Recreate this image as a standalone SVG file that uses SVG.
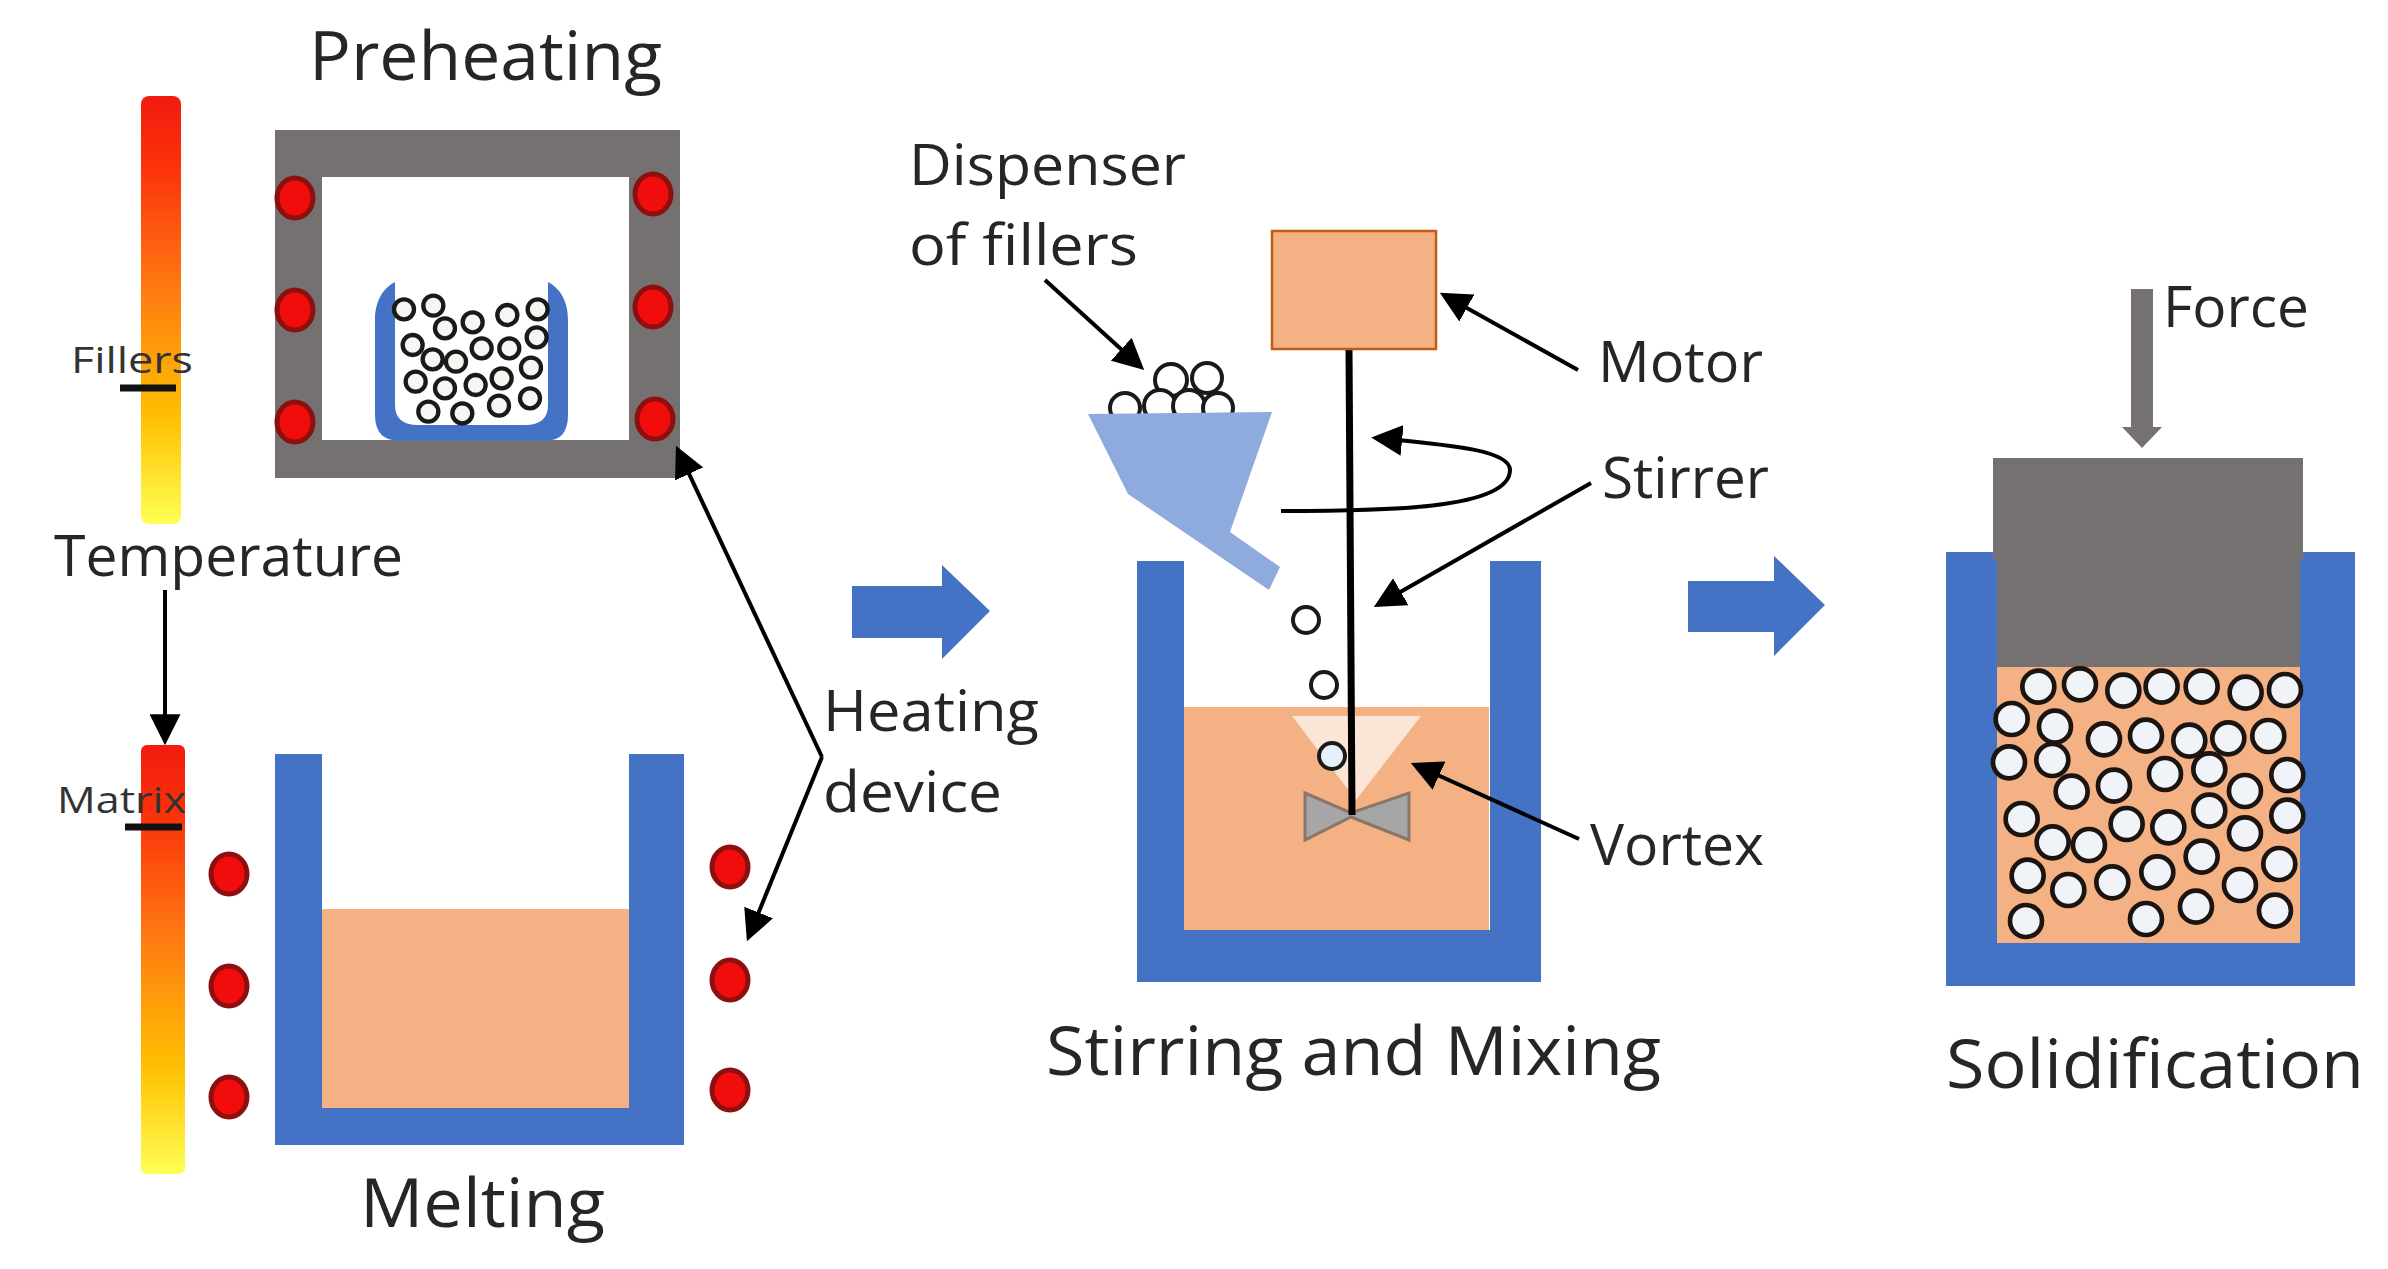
<svg xmlns="http://www.w3.org/2000/svg" width="2388" height="1269" viewBox="0 0 2388 1269">
<defs>
<linearGradient id="heat" x1="0" y1="0" x2="0" y2="1">
<stop offset="0" stop-color="#f01c10"/><stop offset=".15" stop-color="#fb2f0a"/><stop offset=".45" stop-color="#ff7a12"/><stop offset=".75" stop-color="#ffc000"/><stop offset="1" stop-color="#ffff55"/>
</linearGradient>
<marker id="head" viewBox="0 0 32 32" refX="26" refY="16" markerUnits="userSpaceOnUse" markerWidth="31" markerHeight="31" orient="auto"><path d="M0 0L32 16L0 32Z" fill="#000"/></marker>
</defs>
<style>
text{font-family:"Open Sans","Noto Sans","Liberation Sans",sans-serif;fill:#262626}
.big{font-size:68px}.mid{font-size:56px}.small{font-size:36px;fill:#333}
.blue{fill:#4472c4}.melt{fill:#f4b183}.grey{fill:#767171}
.heat{fill:url(#heat)}
.hot{fill:#f20d0d;stroke:#8e0f0f;stroke-width:5}
.ball{fill:#fff;stroke:#1a1a1a;stroke-width:4}
.ball2{fill:#f0f3f8;stroke:#1c1410;stroke-width:14}
.ball3{fill:#f6f6f2;stroke:#1a1a1a;stroke-width:13}
.conn{fill:none;stroke:#000;stroke-width:4;marker-end:url(#head)}
.tick{stroke:#111;stroke-width:7}
</style>
<rect width="2388" height="1269" fill="#fff"/>

<g id="thermometer-fillers">
<rect class="heat" x="141" y="96" width="40" height="428" rx="8"/>
<line class="tick" x1="120" y1="388" x2="176" y2="388"/>
<text class="small" x="71" y="373" textLength="122" lengthAdjust="spacingAndGlyphs">Fillers</text>
</g>
<text id="label-temperature" class="mid" x="54" y="576" textLength="349" lengthAdjust="spacingAndGlyphs">Temperature</text>

<g id="preheating">
<text class="big" x="309" y="80" textLength="353" lengthAdjust="spacingAndGlyphs">Preheating</text>
<path class="grey" fill-rule="evenodd" d="M275 130H680V478H275ZM322 177V440H629V177Z"/>
<g class="heaters">
<ellipse class="hot" cx="295" cy="198" rx="18" ry="20"/><ellipse class="hot" cx="295" cy="310" rx="18" ry="20"/><ellipse class="hot" cx="295" cy="422" rx="18" ry="20"/>
<ellipse class="hot" cx="653" cy="194" rx="18" ry="20"/><ellipse class="hot" cx="653" cy="307" rx="18" ry="20"/><ellipse class="hot" cx="655" cy="419" rx="18" ry="20"/>
</g>
<path class="blue" d="M395 282C380 290 375 305 375 320V415Q375 441 400 441H545Q568 441 568 415V320C568 305 563 290 548 282V405Q548 425 525 425H418Q395 425 395 405Z"/>
<g transform="translate(350 260) scale(.3333)" class="ball3">
<circle cx="162" cy="148" r="30"/><circle cx="250" cy="137" r="30"/><circle cx="285" cy="205" r="30"/><circle cx="368" cy="187" r="30"/><circle cx="472" cy="165" r="30"/><circle cx="563" cy="148" r="30"/><circle cx="560" cy="232" r="30"/><circle cx="188" cy="255" r="30"/><circle cx="248" cy="298" r="30"/><circle cx="318" cy="305" r="30"/><circle cx="395" cy="265" r="30"/><circle cx="478" cy="265" r="30"/><circle cx="543" cy="323" r="30"/><circle cx="197" cy="365" r="30"/><circle cx="285" cy="385" r="30"/><circle cx="377" cy="375" r="30"/><circle cx="455" cy="355" r="30"/><circle cx="540" cy="415" r="30"/><circle cx="235" cy="455" r="30"/><circle cx="337" cy="460" r="30"/><circle cx="447" cy="437" r="30"/>
</g>
</g>

<g id="thermometer-matrix">
<rect class="heat" x="141" y="745" width="44" height="429" rx="6"/>
<line class="tick" x1="125" y1="827" x2="182" y2="827"/>
<text class="small" x="57" y="813" textLength="129" lengthAdjust="spacingAndGlyphs">Matrix</text>
</g>

<g id="melting">
<path class="melt" d="M322 909H629V1108H322Z"/>
<path class="blue" d="M275 754H322V1108H629V754H684V1145H275Z"/>
<g class="heaters">
<ellipse class="hot" cx="229" cy="874" rx="18" ry="20"/><ellipse class="hot" cx="229" cy="986" rx="18" ry="20"/><ellipse class="hot" cx="229" cy="1097" rx="18" ry="20"/>
<ellipse class="hot" cx="730" cy="867" rx="18" ry="20"/><ellipse class="hot" cx="730" cy="980" rx="18" ry="20"/><ellipse class="hot" cx="730" cy="1090" rx="18" ry="20"/>
</g>
<text class="big" x="360" y="1227" textLength="245" lengthAdjust="spacingAndGlyphs">Melting</text>
</g>

<g id="heating-device-label">
<text class="mid" x="823" y="731" textLength="216" lengthAdjust="spacingAndGlyphs">Heating</text>
<text class="mid" x="823" y="812" textLength="179" lengthAdjust="spacingAndGlyphs">device</text>
</g>

<g id="stage-arrows" class="blue">
<path d="M852 586H942V565L990 611L942 659V638H852Z"/>
<path d="M1688 581H1774V556L1825 605L1774 656V632H1688Z"/>
</g>

<g id="dispenser">
<text class="mid" x="909" y="185" textLength="277" lengthAdjust="spacingAndGlyphs">Dispenser</text>
<text class="mid" x="909" y="265" textLength="229" lengthAdjust="spacingAndGlyphs">of fillers</text>
<g class="ball">
<circle cx="1171" cy="380" r="16"/><circle cx="1207" cy="378" r="15"/>
<circle cx="1125" cy="408" r="15"/><circle cx="1160" cy="406" r="16"/><circle cx="1189" cy="406" r="16"/><circle cx="1218" cy="408" r="15"/>
</g>
<path fill="#8faadc" d="M1088 414L1272 412L1230 532L1280 567L1269 590L1128 494Z"/>
</g>

<g id="mixing">
<path class="melt" d="M1184 707H1489V930H1184Z"/>
<path class="blue" d="M1137 561H1184V930H1490V561H1541V982H1137Z"/>
<path fill="#fbe5d6" d="M1292 716H1421L1356 800Z"/>
<path fill="#a6a6a6" stroke="#8a7668" stroke-width="3" d="M1305 793L1351 813L1409 793V840L1351 817L1305 840Z"/>
<g class="ball">
<circle cx="1306" cy="620" r="13"/><circle cx="1324" cy="685" r="13"/><circle cx="1332" cy="756" r="13" fill="#e8f0fa"/>
</g>
<path fill="none" stroke="#000" stroke-width="7" d="M1349 349L1352 815"/>
<rect x="1272" y="231" width="164" height="118" fill="#f4b183" stroke="#c55a11" stroke-width="2.5"/>
<text class="mid" x="1598" y="382" textLength="165" lengthAdjust="spacingAndGlyphs">Motor</text>
<text class="mid" x="1602" y="498" textLength="167" lengthAdjust="spacingAndGlyphs">Stirrer</text>
<text class="mid" x="1590" y="865" textLength="174" lengthAdjust="spacingAndGlyphs">Vortex</text>
<text class="big" x="1046" y="1075" textLength="615" lengthAdjust="spacingAndGlyphs">Stirring and Mixing</text>
</g>

<g id="solidification">
<path class="melt" d="M1995 660H2302V943H1995Z"/>
<path class="blue" d="M1946 552H1997V943H2300V552H2355V986H1946Z"/>
<path class="grey" d="M1993 458H2303V560H2300V667H1997V560H1993Z"/>
<path class="grey" d="M2131 289H2153V427H2162L2142 448L2122 427H2131Z"/>
<text class="mid" x="2163" y="327" textLength="146" lengthAdjust="spacingAndGlyphs">Force</text>
<g transform="translate(1900 640) scale(.3333)" class="ball2">
<circle cx="415" cy="140" r="48"/><circle cx="540" cy="133" r="48"/><circle cx="670" cy="152" r="48"/><circle cx="785" cy="140" r="48"/><circle cx="905" cy="140" r="48"/><circle cx="1037" cy="158" r="48"/><circle cx="1155" cy="150" r="48"/>
<circle cx="335" cy="237" r="48"/><circle cx="465" cy="260" r="48"/><circle cx="612" cy="298" r="48"/><circle cx="738" cy="287" r="48"/><circle cx="868" cy="302" r="48"/><circle cx="985" cy="295" r="48"/><circle cx="1105" cy="288" r="48"/>
<circle cx="327" cy="367" r="48"/><circle cx="457" cy="360" r="48"/><circle cx="515" cy="455" r="48"/><circle cx="642" cy="437" r="48"/><circle cx="795" cy="402" r="48"/><circle cx="928" cy="388" r="48"/><circle cx="1035" cy="453" r="48"/><circle cx="1162" cy="405" r="48"/>
<circle cx="365" cy="537" r="48"/><circle cx="458" cy="607" r="48"/><circle cx="567" cy="615" r="48"/><circle cx="680" cy="552" r="48"/><circle cx="805" cy="562" r="48"/><circle cx="928" cy="512" r="48"/><circle cx="1035" cy="580" r="48"/><circle cx="1162" cy="527" r="48"/>
<circle cx="905" cy="650" r="48"/><circle cx="1138" cy="672" r="48"/><circle cx="383" cy="707" r="48"/><circle cx="505" cy="750" r="48"/><circle cx="637" cy="727" r="48"/><circle cx="772" cy="697" r="48"/><circle cx="1020" cy="735" r="48"/>
<circle cx="378" cy="843" r="48"/><circle cx="738" cy="837" r="48"/><circle cx="888" cy="800" r="48"/><circle cx="1125" cy="812" r="48"/>
</g>
<text class="big" x="1946" y="1088" textLength="418" lengthAdjust="spacingAndGlyphs">Solidification</text>
</g>

<g id="connectors">
<path class="conn" d="M165 590V739.4"/>
<path class="conn" d="M822 757L678.4 451.1"/>
<path class="conn" d="M822 757L749.1 935.8"/>
<path class="conn" d="M1045 280L1139.9 366.2"/>
<path class="conn" d="M1578 370L1444.9 295.7"/>
<path class="conn" d="M1591 483L1378.9 604.2"/>
<path class="conn" d="M1579 839L1416.1 765.3"/>
<path class="conn" d="M1281 511C1380 511 1510 510 1510 470C1510 450 1450 445 1377 438"/>
</g>
</svg>
